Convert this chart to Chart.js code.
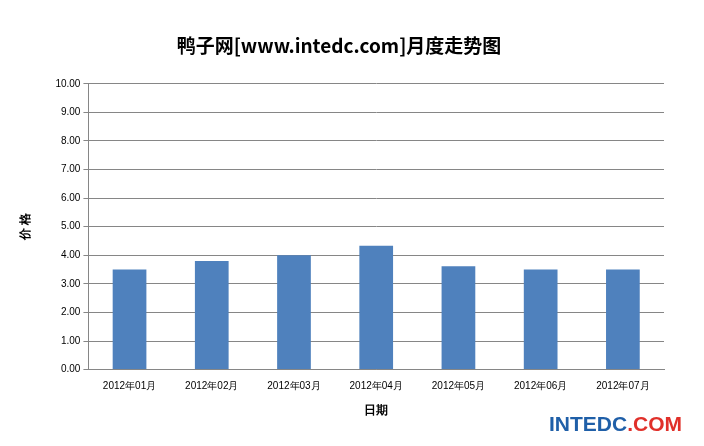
<!DOCTYPE html>
<html lang="zh">
<head>
<meta charset="UTF-8">
<title>鸭子网月度走势图</title>
<script src="https://cdn.jsdelivr.net/npm/chart.js"></script>
<style>
    body { margin: 0; background: #fff; font-family: "Noto Sans CJK SC", "DejaVu Sans", sans-serif; }
    #wrap { position: relative; width: 704px; height: 446px; }
    #logo { position: absolute; right: 22px; bottom: 10px; font: bold 21px "Liberation Sans", Arial, sans-serif; color: #1f5fa8; }
    #logo span { color: #e0302a; }
</style>
</head>
<body>
<div id="wrap">
    <canvas id="c" width="704" height="446"></canvas>
    <div id="logo">INTEDC<span>.COM</span></div>
</div>
<script>
var months = ['2012年01月', '2012年02月', '2012年03月', '2012年04月', '2012年05月', '2012年06月', '2012年07月'];
var prices = [3.5, 3.8, 4.0, 4.33, 3.62, 3.5, 3.5];

new Chart(document.getElementById('c'), {
    type: 'bar',
    data: {
        labels: months,
        datasets: [{ data: prices, backgroundColor: '#4f81bd', categoryPercentage: 0.82, barPercentage: 0.5 }]
    },
    options: {
        responsive: false,
        animation: false,
        layout: { padding: { left: 14, right: 40, top: 10, bottom: 24 } },
        plugins: {
            legend: { display: false },
            tooltip: { enabled: false },
            title: {
                display: true,
                text: '鸭子网[www.intedc.com]月度走势图',
                color: '#000',
                font: { size: 19, weight: 'bold', family: '"Noto Sans CJK SC", sans-serif' },
                padding: { top: 24, bottom: 27 }
            }
        },
        scales: {
            x: {
                grid: { display: false },
                border: { color: '#868686' },
                ticks: { color: '#000', font: { size: 10 }, maxRotation: 0 },
                title: { display: true, text: '日期', color: '#000', font: { size: 12, weight: 'bold' }, padding: { top: 8 } }
            },
            y: {
                min: 0, max: 10,
                grid: { color: '#868686', drawTicks: true, tickLength: 5 },
                border: { color: '#868686' },
                ticks: { stepSize: 1, color: '#000', font: { size: 10 }, callback: function (v) { return v.toFixed(2); } },
                title: { display: true, text: '价 格', color: '#000', font: { size: 12, weight: 'bold' }, padding: { bottom: 20 } }
            }
        }
    }
});
</script>
</body>
</html>
